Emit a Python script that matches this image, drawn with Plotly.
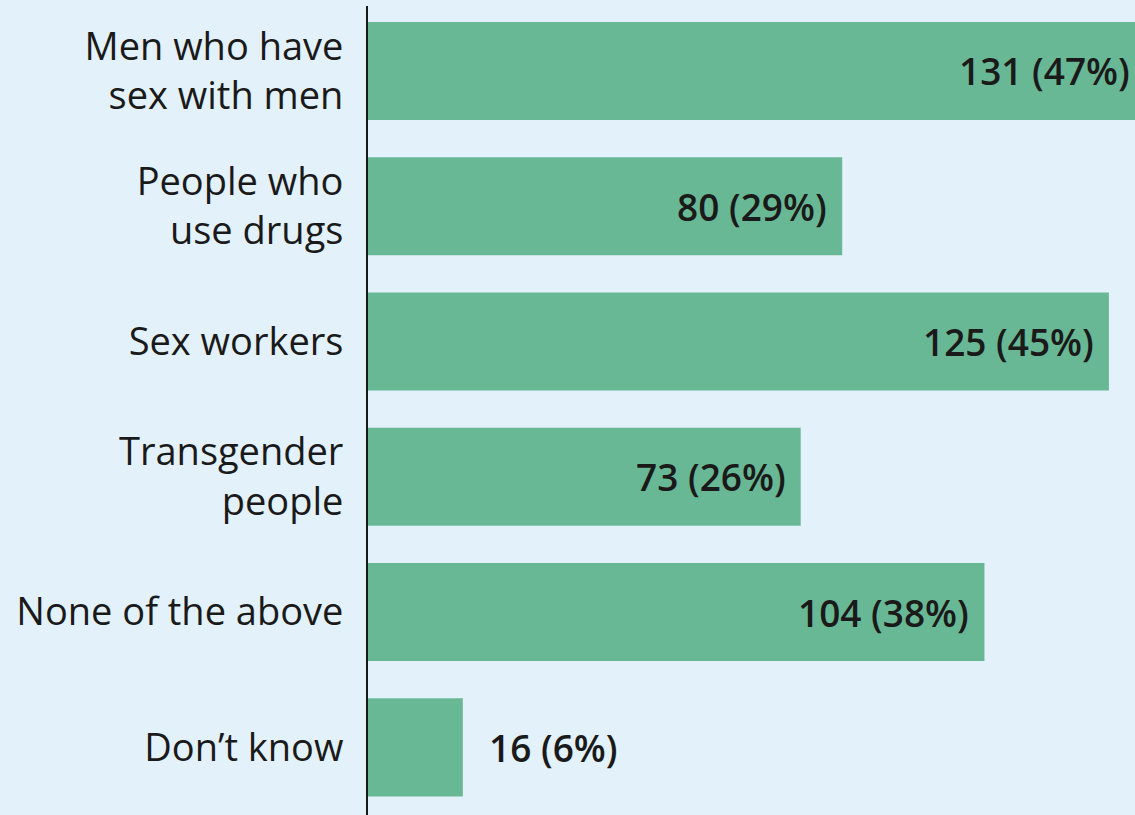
import plotly.graph_objects as go

categories = ["Men who have<br>sex with men", "People who<br>use drugs", "Sex workers",
              "Transgender<br>people", "None of the above", "Don’t know"]
counts = [131, 80, 125, 73, 104, 16]
percents = [47, 29, 45, 26, 38, 6]

XMAX = 129.4
BAR_COLOR = "#69b895"
BG = "#e3f1fa"
FONT = "Open Sans"

fig = go.Figure(go.Bar(
    x=counts, y=categories, orientation="h",
    marker=dict(color=BAR_COLOR, line=dict(width=0)),
    width=0.725, hoverinfo="skip",
))

for c, v, p in zip(categories, counts, percents):
    label = f"{v} ({p}%)"
    if v > 30:
        fig.add_annotation(x=min(v, XMAX), y=c, text=label, showarrow=False,
                           xanchor="right", xshift=-13 if v <= XMAX else -3,
                           font=dict(family=FONT, size=37, color="#1a1a1a", weight=600))
    else:
        fig.add_annotation(x=v, y=c, text=label, showarrow=False,
                           xanchor="left", xshift=24,
                           font=dict(family=FONT, size=37, color="#1a1a1a", weight=600))

fig.update_layout(
    width=1135, height=815,
    margin=dict(l=368, r=0, t=6, b=0),
    paper_bgcolor=BG, plot_bgcolor=BG,
    showlegend=False,
    font=dict(family=FONT, color="#1a1a1a"),
    xaxis=dict(range=[0, XMAX], visible=False, fixedrange=True),
    yaxis=dict(range=[5.5, -0.48], showline=True, linecolor="#1a1a1a", linewidth=2,
               showgrid=False, zeroline=False, ticks="", ticklabelstandoff=15,
               fixedrange=True,
               tickfont=dict(family=FONT, size=38, color="#1a1a1a")),
)

fig.write_html("out.html", config={"displayModeBar": False},
               post_script="document.body.style.margin='0';document.body.style.overflow='hidden';")
